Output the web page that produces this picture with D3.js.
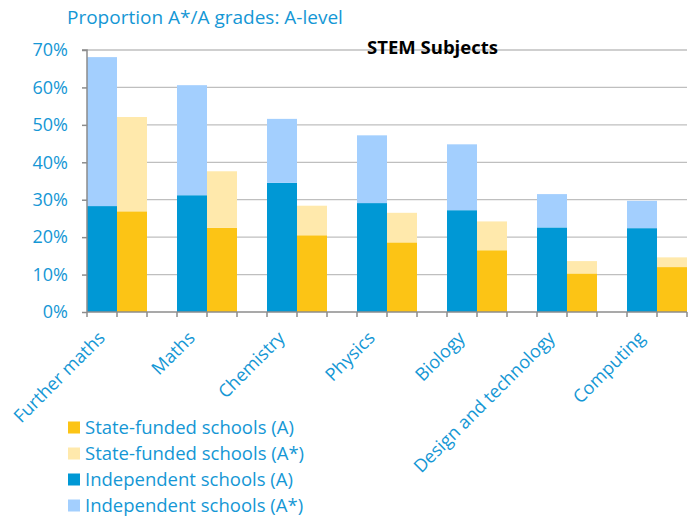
<!DOCTYPE html>
<html><head><meta charset="utf-8">
<script src="https://cdn.jsdelivr.net/npm/d3@7"></script>
<style>body{margin:0;background:#fff}svg{display:block}text{font-family:"Open Sans",sans-serif}</style>
</head><body><svg id="c" width="695" height="517"></svg>
<script>
const categories = ["Further maths","Maths","Chemistry","Physics","Biology","Design and technology","Computing"];
const independentA     = [28.3, 31.2, 34.5, 29.1, 27.2, 22.6, 22.4];
const independentAstar = [39.8, 29.4, 17.1, 18.1, 17.6,  8.9,  7.3];
const stateA           = [26.9, 22.5, 20.5, 18.6, 16.5, 10.3, 12.0];
const stateAstar       = [25.2, 15.1,  7.9,  7.9,  7.7,  3.3,  2.6];
const yTicks = [0,10,20,30,40,50,60,70];
const groups = ["Independent","State"];
const legendLabels = ["State-funded schools (A)","State-funded schools (A*)","Independent schools (A)","Independent schools (A*)"];

const colors = {IndA:"#0098d5", IndS:"#a3cffe", StA:"#fcc415", StS:"#ffe9ac"};
const textBlue = "#1597d5";

const svg = d3.select("#c");
const pL = 87, pR = 687, pT = 50, pB = 312;
const x0 = d3.scaleBand().domain(categories).range([pL, pR + (pR-pL)/20]);
const x1 = d3.scaleBand().domain(groups).range([0, x0.bandwidth()*2/3]);
const y = d3.scaleLinear().domain([0,70]).range([pB, pT]);

// gridlines
svg.append("g").selectAll("line").data(yTicks.filter(d=>d>0)).join("line")
  .attr("x1",pL).attr("x2",pR).attr("y1",d=>y(d)).attr("y2",d=>y(d))
  .attr("stroke","#bfbfbf").attr("stroke-width",1.3);

// title
svg.append("text").attr("x",67).attr("y",24).attr("font-size",19).attr("fill",textBlue)
  .text("Proportion A*/A grades: A-level");
svg.append("text").attr("x",432.5).attr("y",54).attr("text-anchor","middle").attr("font-size",18.5)
  .attr("font-weight","bold").attr("fill","#000").text("STEM Subjects");

// stacked bars
const stackKeys = ["A","Astar"];
const indData = categories.map((c,i)=>({cat:c, A:independentA[i], Astar:independentAstar[i]}));
const stData = categories.map((c,i)=>({cat:c, A:stateA[i], Astar:stateAstar[i]}));
const stack = d3.stack().keys(stackKeys);
function drawGroup(data, grp, cols){
  const series = stack(data);
  svg.append("g").selectAll("g").data(series).join("g")
    .attr("fill",(d,i)=>cols[i])
    .selectAll("rect").data(d=>d).join("rect")
    .attr("x",d=>x0(d.data.cat)+x1(grp))
    .attr("width",x1.bandwidth())
    .attr("y",d=>y(d[1]))
    .attr("height",d=>y(d[0])-y(d[1]));
}
drawGroup(indData,"Independent",[colors.IndA,colors.IndS]);
drawGroup(stData,"State",[colors.StA,colors.StS]);

// y axis
const yAxis = d3.axisLeft(y).tickValues(yTicks).tickFormat(d=>d+"%").tickSize(5).tickPadding(14);
const ya = svg.append("g").attr("transform",`translate(${pL},0)`).call(yAxis);
ya.select(".domain").attr("stroke","#8c8c8c").attr("stroke-width",1.5).attr("d",`M-5,${pT}H0V${pB}`);
ya.selectAll(".tick line").attr("stroke","#8c8c8c").attr("stroke-width",1.5);
ya.selectAll("text").attr("font-size",18).attr("fill",textBlue).attr("font-family","'Open Sans'");

// x axis line and ticks
const xt = [];
categories.forEach(c=>{ for(let j=0;j<3;j++) xt.push(x0(c)+x1.step()*j); });
svg.append("line").attr("x1",pL).attr("x2",pR).attr("y1",pB).attr("y2",pB)
  .attr("stroke","#8c8c8c").attr("stroke-width",1.5);
svg.append("g").selectAll("line").data(xt).join("line")
  .attr("x1",d=>d).attr("x2",d=>d).attr("y1",pB).attr("y2",pB+5)
  .attr("stroke","#8c8c8c").attr("stroke-width",1.5);

// category labels
svg.append("g").selectAll("text").data(categories).join("text")
  .attr("transform",d=>`translate(${x0(d)+x1.step()-11},${pB+27}) rotate(-45)`)
  .attr("text-anchor","end").attr("font-size",18).attr("fill",textBlue).text(d=>d);

// legend
const legCols = [colors.StA, colors.StS, colors.IndA, colors.IndS];
const lg = svg.append("g").selectAll("g").data(legendLabels).join("g")
  .attr("transform",(d,i)=>`translate(68,${427.5 + i*26})`);
lg.append("rect").attr("x",0).attr("y",-6).attr("width",12).attr("height",12).attr("fill",(d,i)=>legCols[i]);
lg.append("text").attr("x",17).attr("y",6).attr("font-size",18.5).attr("fill",textBlue).text(d=>d);
</script></body></html>
